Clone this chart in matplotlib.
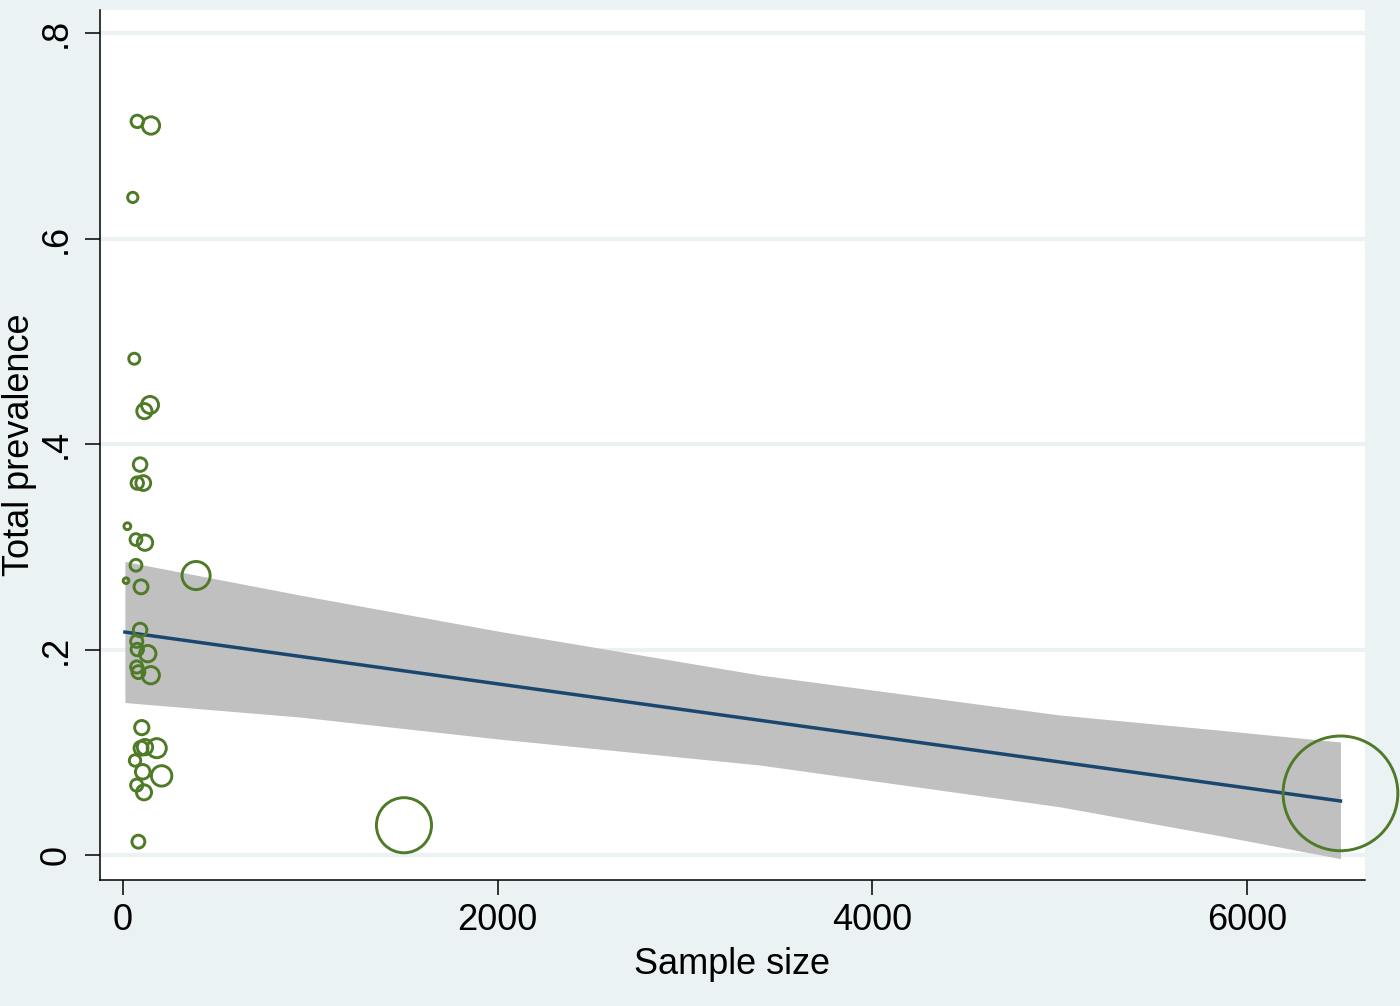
import matplotlib.pyplot as plt
import numpy as np

# data
sample_size = [76, 149, 52, 60, 114, 144, 91, 76, 108, 23, 69, 117, 69, 16, 96,
               390, 91, 73, 76, 132, 73, 82, 148, 100, 96, 117, 180, 64, 105,
               206, 73, 112, 82, 1500, 6500]
prevalence = [0.714, 0.710, 0.640, 0.483, 0.432, 0.438, 0.380, 0.362, 0.362,
              0.320, 0.307, 0.304, 0.282, 0.267, 0.261, 0.272, 0.219, 0.208,
              0.200, 0.196, 0.183, 0.178, 0.175, 0.124, 0.104, 0.105, 0.104,
              0.092, 0.081, 0.077, 0.068, 0.061, 0.013, 0.029, 0.060]

# linear fit with 95% CI
fit_x = [10, 6500]
fit_y = [0.217, 0.0526]
ci_x = [10, 945, 2000, 3400, 5000, 5850, 6500]
ci_upper = [0.2857, 0.2530, 0.2180, 0.1752, 0.1363, 0.1216, 0.1100]
ci_lower = [0.1484, 0.1343, 0.1130, 0.0876, 0.0470, 0.0190, -0.0035]

xticks = [0, 2000, 4000, 6000]
xtick_labels = ["0", "2000", "4000", "6000"]
yticks = [0, 0.2, 0.4, 0.6, 0.8]
ytick_labels = ["0", ".2", ".4", ".6", ".8"]

bg = "#EAF2F3"
green = "#4F7A28"
navy = "#1A476F"

plt.rcParams["font.family"] = ["Liberation Sans", "DejaVu Sans"]

fig = plt.figure(figsize=(14, 10.06), dpi=100, facecolor=bg)
ax = fig.add_axes([100 / 1400, 126 / 1006, 1265 / 1400, 870 / 1006])
ax.set_facecolor("white")

ax.fill_between(ci_x, ci_lower, ci_upper, color="#C0C0C0", lw=0, zorder=2)
ax.plot(fit_x, fit_y, color=navy, lw=2.5, zorder=3)

# marker area proportional to sample size
sizes = np.array(sample_size) * 1.05
ax.scatter(sample_size, prevalence, s=sizes, facecolors="none",
           edgecolors=green, linewidths=2.1, zorder=4, clip_on=False)

ax.set_xlim(-123, 6631)
ax.set_ylim(-0.0243, 0.8224)

ax.set_xticks(xticks)
ax.set_xticklabels(xtick_labels)
ax.set_yticks(yticks)
ax.set_yticklabels(ytick_labels, rotation=90, va="center")

ax.tick_params(axis="both", direction="out", length=10.8, width=1.1,
               labelsize=26, color="black")
ax.tick_params(axis="x", pad=6)
ax.tick_params(axis="y", pad=8)

ax.grid(axis="y", color=bg, lw=3, zorder=0)
ax.set_axisbelow(True)

for side in ["top", "right"]:
    ax.spines[side].set_visible(False)
for side in ["left", "bottom"]:
    ax.spines[side].set_linewidth(1.1)

ax.set_xlabel("Sample size", fontsize=26, labelpad=6)
ax.set_ylabel("Total prevalence", fontsize=26, labelpad=1)

fig.savefig("out.png", dpi=100, facecolor=bg)
